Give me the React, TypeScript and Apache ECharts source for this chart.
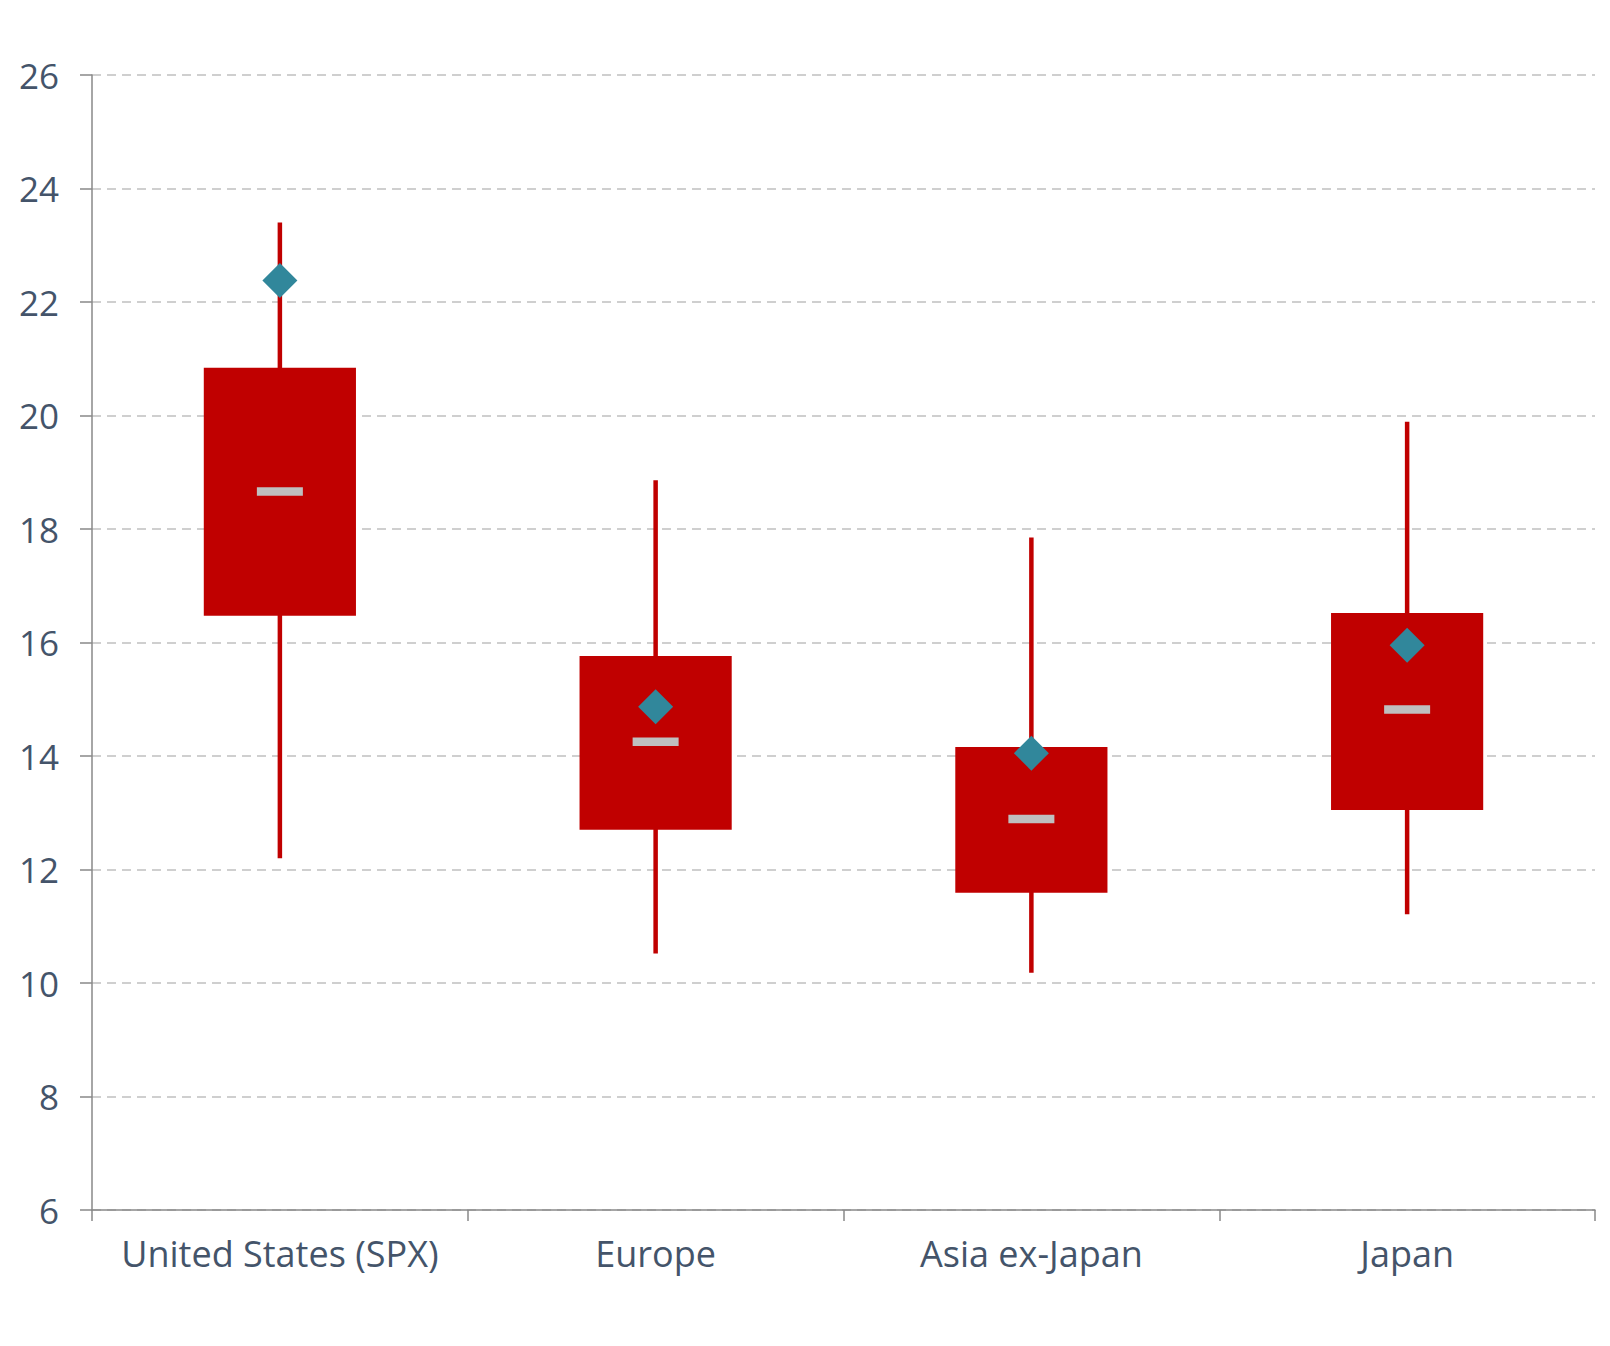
import React, { useEffect, useRef } from "react";
import * as echarts from "echarts";

const categories = ["United States (SPX)", "Europe", "Asia ex-Japan", "Japan"];
const lows = [12.2, 10.52, 10.18, 11.21];
const q1s = [16.47, 12.7, 11.59, 13.05];
const medians = [18.66, 14.25, 12.89, 14.82];
const q3s = [20.84, 15.76, 14.16, 16.52];
const highs = [23.4, 18.86, 17.85, 19.89];
const currents = [22.38, 14.87, 14.05, 15.95];
const yMin = 6;
const yMax = 26;
const yStep = 2;

const RED = "#C00000";
const TEAL = "#31879B";
const TEXT = "#44546A";
const FONT = "'Open Sans', Lato, sans-serif";

export default function App() {
  const ref = useRef<HTMLDivElement>(null);
  useEffect(() => {
    document.body.style.margin = "0";
    const chart = echarts.init(ref.current!, null, { renderer: "svg" });
    const boxData = categories.map((_, i) => [i, lows[i], q1s[i], medians[i], q3s[i], highs[i]]);
    chart.setOption({
      animation: false,
      backgroundColor: "#ffffff",
      grid: { left: 92, right: 15, top: 75, bottom: 136 },
      xAxis: {
        type: "category",
        data: categories,
        boundaryGap: true,
        axisLine: { show: true, lineStyle: { color: "#898989", width: 1.5 } },
        axisTick: { show: true, interval: 0, length: 11, alignWithLabel: false, lineStyle: { color: "#898989", width: 1.5 } },
        axisLabel: { interval: 0, color: TEXT, fontSize: 36, fontFamily: FONT, margin: 25 },
        splitLine: { show: false },
      },
      yAxis: {
        type: "value",
        min: yMin,
        max: yMax,
        interval: yStep,
        axisLine: { show: true, lineStyle: { color: "#898989", width: 1.5 } },
        axisTick: { show: true, length: 12, lineStyle: { color: "#898989", width: 1.5 } },
        axisLabel: { color: TEXT, fontSize: 35, fontFamily: FONT, margin: 33 },
        splitLine: { show: true, lineStyle: { color: "#C0C0C0", width: 1.5, type: [9, 6] } },
      },
      series: [
        {
          type: "custom",
          data: boxData,
          encode: { x: 0, y: [1, 2, 3, 4, 5] },
          renderItem: (params: any, api: any) => {
            const idx = api.value(0);
            const pLow = api.coord([idx, api.value(1)]);
            const pQ1 = api.coord([idx, api.value(2)]);
            const pMed = api.coord([idx, api.value(3)]);
            const pQ3 = api.coord([idx, api.value(4)]);
            const pHigh = api.coord([idx, api.value(5)]);
            const bandW = api.size([1, 0])[0];
            const boxW = bandW * 0.405;
            const cx = pLow[0];
            const wW = 4.5;
            const medW = 46;
            const medH = 8.5;
            return {
              type: "group",
              children: [
                {
                  type: "rect",
                  shape: { x: cx - wW / 2, y: pHigh[1], width: wW, height: pLow[1] - pHigh[1] },
                  style: { fill: RED },
                },
                {
                  type: "rect",
                  shape: { x: cx - boxW / 2, y: pQ3[1], width: boxW, height: pQ1[1] - pQ3[1] },
                  style: { fill: RED },
                },
                {
                  type: "rect",
                  shape: { x: cx - medW / 2, y: pMed[1] - medH / 2, width: medW, height: medH },
                  style: { fill: "#BFBFBF" },
                },
              ],
            };
          },
          z: 2,
        },
        {
          type: "scatter",
          data: currents,
          symbol: "diamond",
          symbolSize: [35, 35],
          itemStyle: { color: TEAL, opacity: 1 },
          z: 3,
        },
      ],
    });
    return () => chart.dispose();
  }, []);
  return <div ref={ref} style={{ width: 1610, height: 1346 }} />;
}
